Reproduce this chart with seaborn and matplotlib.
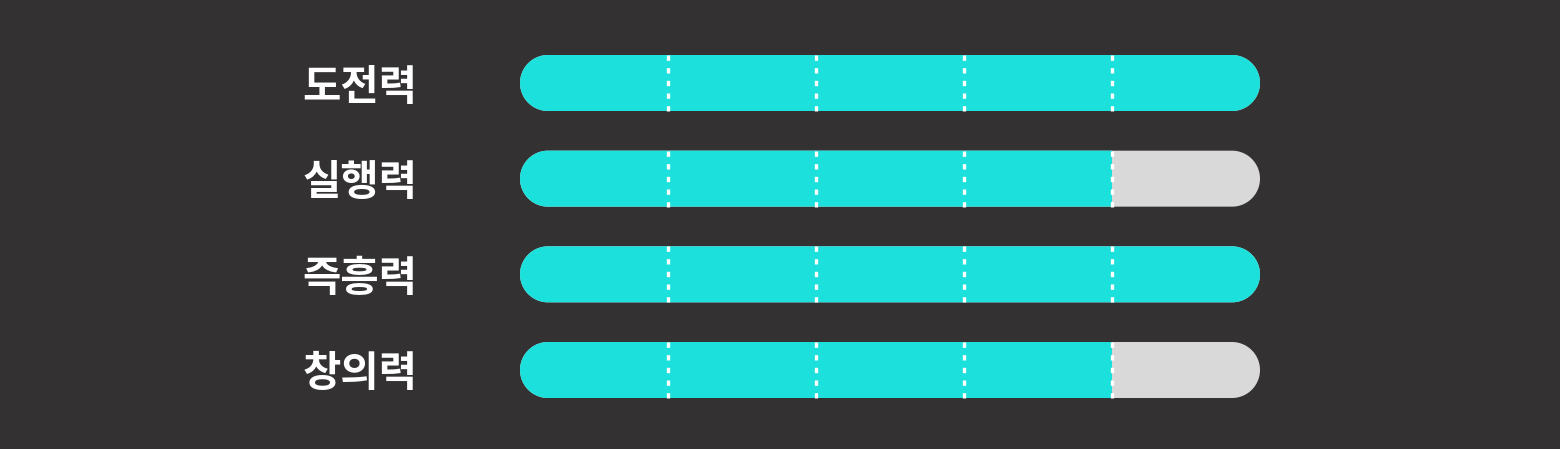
import matplotlib
matplotlib.use("Agg")
import numpy as np
import matplotlib.pyplot as plt
from matplotlib.patches import Polygon, Rectangle
import seaborn as sns

# data
labels = ["도전력", "실행력", "즉흥력", "창의력"]
scores = [5, 4, 5, 4]
max_score = 5
ticks = [1, 2, 3, 4]

BG = "#333132"
FILL = "#1ce0dc"
TRACK = "#d9d9d9"

sns.set_theme(style="white")
plt.rcParams["font.family"] = ["Noto Sans CJK KR", "DejaVu Sans"]

W, H, DPI = 1560, 449, 100
fig = plt.figure(figsize=(W / DPI, H / DPI), dpi=DPI, facecolor=BG)

# axes placed so that 0..5 spans px 520..1260, rows centred at ~83..370
x0, x1 = 520, 1260
row_top, row_bot = 83, 370
step = (row_bot - row_top) / (len(labels) - 1)
top_px = row_top - step / 2
bot_px = row_bot + step / 2
ax = fig.add_axes([x0 / W, 1 - bot_px / H, (x1 - x0) / W, (bot_px - top_px) / H])
ax.set_facecolor(BG)

bar_h = 56 / step
sns.barplot(x=[max_score] * len(labels), y=labels, color=TRACK, width=bar_h,
            orient="h", ax=ax)
sns.barplot(x=scores, y=labels, color=FILL, width=bar_h, orient="h", ax=ax)
ax.set_xlim(0, max_score)
ax.set_ylim(len(labels) - 0.5, -0.5)

px_x = (x1 - x0) / max_score  # px per x unit
r = 28 / px_x  # cap radius in x units


def pill(x, y, w, h, color, z, clip=None):
    # one closed outline: right half-circle then left half-circle
    yc, ry = y + h / 2, h / 2
    t = np.linspace(-np.pi / 2, np.pi / 2, 60)
    right = np.column_stack([x + w - r + r * np.cos(t), yc + ry * np.sin(t)])
    left = np.column_stack([x + r - r * np.cos(t), yc - ry * np.sin(t)])
    p = Polygon(np.vstack([right, left]), closed=True, fc=color, ec="none",
                zorder=z)
    ax.add_patch(p)
    if clip is not None:
        p.set_clip_path(clip)


bars = list(ax.patches)
n = len(labels)
track_bars, fill_bars = bars[:n], bars[n:]
for b in bars:
    b.remove()

for tb, fb in zip(track_bars, fill_bars):
    x, y, w, h = tb.get_x(), tb.get_y(), tb.get_width(), tb.get_height()
    pill(x, y, w, h, TRACK, 2)
    clip = Rectangle((fb.get_x() - 0.1, fb.get_y() - 0.1), fb.get_width() + 0.1,
                     fb.get_height() + 0.2, transform=ax.transData)
    pill(x, y, w, h, FILL, 3, clip)
    # dashed dividers
    ax.vlines(ticks, y, y + h, colors="white", linewidth=2.4,
              linestyles=(0, (1.6, 2.2)), zorder=4)

for s in ax.spines.values():
    s.set_visible(False)
ax.set_xticks([])
ax.set_xlabel("")
ax.set_ylabel("")
ax.tick_params(axis="y", length=0, pad=74, labelsize=30, labelcolor="white")
for t in ax.get_yticklabels():
    t.set_fontweight("black")

fig.savefig("out.png", dpi=DPI, facecolor=BG)
